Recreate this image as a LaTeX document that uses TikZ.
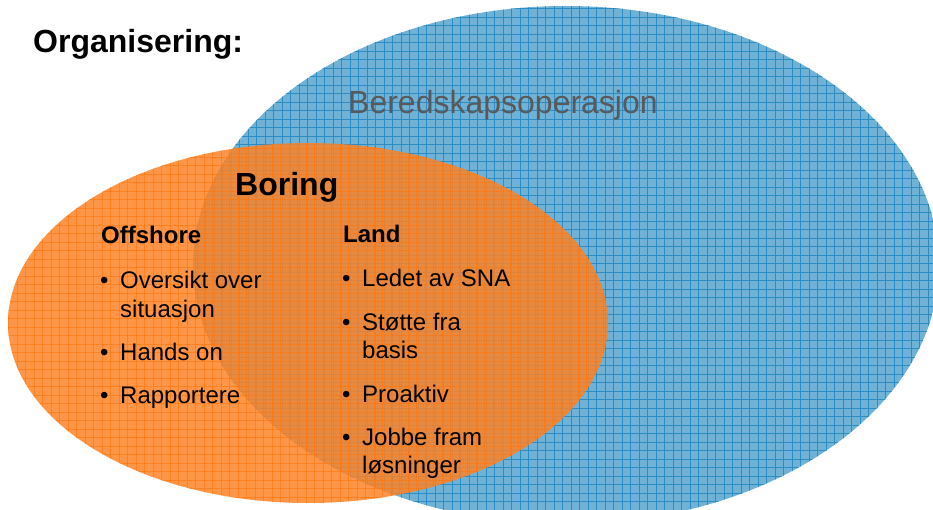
\documentclass[tikz,border=0pt]{standalone}
\usepackage{fontspec}
\setmainfont{Liberation Sans}
\definecolor{blueBase}{RGB}{112,178,214}
\definecolor{blueLine}{RGB}{44,140,196}
\definecolor{orgBase}{RGB}{255,130,36}
\definecolor{orgLine}{RGB}{255,118,10}
\definecolor{grayText}{RGB}{89,89,89}
\begin{document}
\begin{tikzpicture}[x=1pt,y=-1pt,
  txt/.style={anchor=base west, inner sep=0pt, font=\fontsize{24}{28}\selectfont},
  hd/.style={anchor=base west, inner sep=0pt, font=\bfseries\fontsize{24}{28}\selectfont},
  big/.style={anchor=base west, inner sep=0pt, font=\fontsize{32}{38}\selectfont},
  bigb/.style={big, font=\bfseries\fontsize{32}{38}\selectfont},
  gridl/.style={line width=0.75pt}]
\useasboundingbox (0,0) rectangle (933,510);
% blue ellipse (Beredskapsoperasjon)
\begin{scope}
  \clip (566,265) ellipse [x radius=373, y radius=259];
  \fill[blueBase] (180,0) rectangle (945,530);
  \foreach \x in {180,188.5,...,945} \draw[blueLine,gridl] (\x,0) -- (\x,530);
  \foreach \y in {0,8.5,...,530} \draw[blueLine,gridl] (180,\y) -- (945,\y);
\end{scope}
% orange ellipse (Boring)
\begin{scope}
  \clip (308,323) ellipse [x radius=300, y radius=180];
  \fill[orgBase, fill opacity=0.84] (0,140) rectangle (615,510);
  \foreach \x in {0,8.5,...,615} \draw[orgLine,gridl,opacity=0.6] (\x,140) -- (\x,510);
  \foreach \y in {140,148.5,...,510} \draw[orgLine,gridl,opacity=0.6] (0,\y) -- (615,\y);
\end{scope}
% titles
\node[bigb] (org) at (33,53) {Organisering:};
\node[big, text=grayText] (bered) at (348,114) {Beredskapsoperasjon};
\node[bigb] (boring) at (235,196) {Boring};
% offshore column
\node[hd] (off) at (101,244) {Offshore};
\node[txt] (ob1) at (100,288) {•};
\node[txt] (o1) at (120,288) {Oversikt over};
\node[txt] (o1b) at (120,317) {situasjon};
\node[txt] (ob2) at (100,360) {•};
\node[txt] (o2) at (120,360) {Hands on};
\node[txt] (ob3) at (100,403) {•};
\node[txt] (o3) at (120,403) {Rapportere};
% land column
\node[hd] (land) at (343,243) {Land};
\node[txt] (lb1) at (342,287) {•};
\node[txt] (l1) at (362,287) {Ledet av SNA};
\node[txt] (lb2) at (342,330) {•};
\node[txt] (l2) at (362,330) {Støtte fra};
\node[txt] (l2b) at (362,358) {basis};
\node[txt] (lb3) at (342,402) {•};
\node[txt] (l3) at (362,402) {Proaktiv};
\node[txt] (lb4) at (342,445) {•};
\node[txt] (l4) at (362,445) {Jobbe fram};
\node[txt] (l4b) at (362,473) {løsninger};
\end{tikzpicture}
\end{document}
